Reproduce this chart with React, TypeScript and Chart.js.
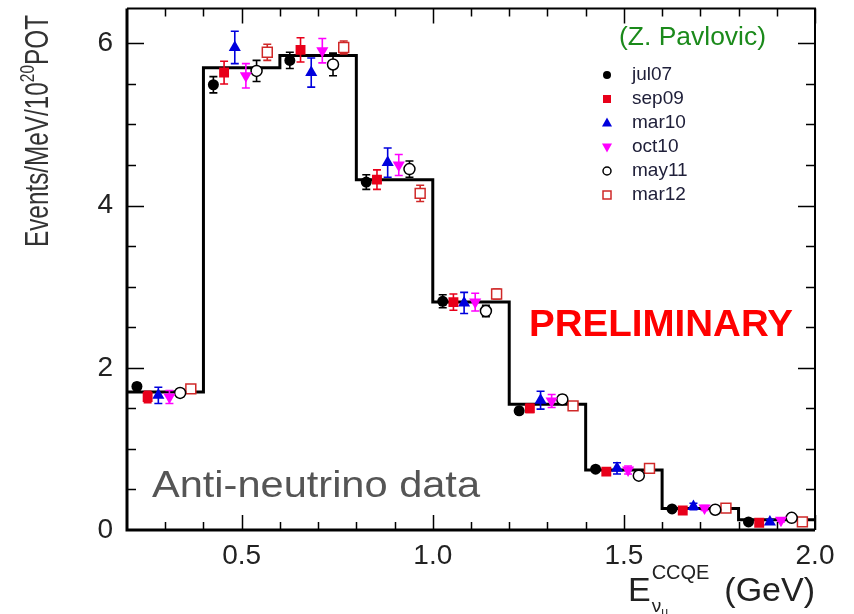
import React, { useEffect, useRef } from "react";
import { Chart, registerables } from "chart.js";

Chart.register(...registerables);

// Reconstructed-energy binning (GeV) and the predicted rate in each bin
const BIN_EDGES = [0.2, 0.4, 0.6, 0.8, 1.0, 1.2, 1.4, 1.6, 1.8, 2.0];
const PREDICTION = [1.7, 5.7, 5.85, 4.32, 2.81, 1.55, 0.74, 0.265, 0.125];

// Measured rate per run period (Events/MeV/1e20 POT) and its error
const RUN_LABELS = ["jul07", "sep09", "mar10", "oct10", "may11", "mar12"];
const JUL07 = [1.77, 5.49, 5.79, 4.29, 2.82, 1.47, 0.75, 0.26, 0.1];
const JUL07_ERR = [0.04, 0.1, 0.1, 0.09, 0.08, 0.04, 0.03, 0.02, 0.02];
const SEP09 = [1.64, 5.64, 5.92, 4.32, 2.81, 1.5, 0.72, 0.24, 0.09];
const SEP09_ERR = [0.07, 0.14, 0.15, 0.12, 0.1, 0.05, 0.04, 0.03, 0.02];
const MAR10 = [1.66, 5.95, 5.64, 4.53, 2.8, 1.6, 0.76, 0.29, 0.1];
const MAR10_ERR = [0.1, 0.2, 0.18, 0.18, 0.13, 0.11, 0.07, 0.04, 0.03];
const OCT10 = [1.64, 5.6, 5.91, 4.5, 2.81, 1.59, 0.74, 0.27, 0.12];
const OCT10_ERR = [0.08, 0.15, 0.15, 0.13, 0.11, 0.08, 0.05, 0.03, 0.02];
const MAY11 = [1.69, 5.66, 5.74, 4.45, 2.7, 1.61, 0.67, 0.25, 0.15];
const MAY11_ERR = [0.05, 0.13, 0.14, 0.1, 0.07, 0.05, 0.04, 0.02, 0.02];
const MAR12 = [1.74, 5.89, 5.95, 4.15, 2.91, 1.53, 0.76, 0.27, 0.1];
const MAR12_ERR = [0.05, 0.1, 0.08, 0.1, 0.06, 0.04, 0.04, 0.02, 0.02];

const RUN_VALUES = [JUL07, SEP09, MAR10, OCT10, MAY11, MAR12];
const RUN_ERRORS = [JUL07_ERR, SEP09_ERR, MAR10_ERR, OCT10_ERR, MAY11_ERR, MAR12_ERR];

// Each run is drawn slightly shifted inside its bin (GeV from the bin's low edge)
const RUN_OFFSETS = [0.026, 0.054, 0.082, 0.111, 0.139, 0.167];

// Axis ticks
const X_TICKS = [0.5, 1.0, 1.5, 2.0];
const Y_TICKS = [0, 2, 4, 6];
const X_MINOR_STEP = 0.1;
const Y_MINOR_STEP = 0.5;
const X_MIN = 0.2;
const X_MAX = 2.0;
const Y_MIN = 0;
const Y_MAX = 6.43;

type Shape = "circle" | "rect" | "triangle" | "triangleDown";
const RUN_STYLES: { color: string; shape: Shape; filled: boolean }[] = [
  { color: "#000000", shape: "circle", filled: true },
  { color: "#e8001a", shape: "rect", filled: true },
  { color: "#0000dd", shape: "triangle", filled: true },
  { color: "#ff00ff", shape: "triangleDown", filled: true },
  { color: "#000000", shape: "circle", filled: false },
  { color: "#d02828", shape: "rect", filled: false },
];

const FONT = '"Liberation Sans", Arial, sans-serif';

function drawMarker(
  ctx: CanvasRenderingContext2D,
  shape: Shape,
  color: string,
  filled: boolean,
  x: number,
  y: number,
  r: number
) {
  ctx.save();
  ctx.beginPath();
  if (shape === "circle") {
    ctx.arc(x, y, r, 0, Math.PI * 2);
  } else if (shape === "rect") {
    ctx.rect(x - r, y - r, 2 * r, 2 * r);
  } else if (shape === "triangle") {
    ctx.moveTo(x, y - r * 1.1);
    ctx.lineTo(x + r, y + r * 0.7);
    ctx.lineTo(x - r, y + r * 0.7);
    ctx.closePath();
  } else {
    ctx.moveTo(x, y + r * 1.1);
    ctx.lineTo(x + r, y - r * 0.7);
    ctx.lineTo(x - r, y - r * 0.7);
    ctx.closePath();
  }
  if (filled) {
    ctx.fillStyle = color;
    ctx.fill();
  } else {
    ctx.fillStyle = "#ffffff";
    ctx.fill();
    ctx.strokeStyle = color;
    ctx.lineWidth = 1.5;
    ctx.stroke();
  }
  ctx.restore();
}

// draw text squeezed or stretched horizontally to a given width
function fillTextToWidth(ctx: CanvasRenderingContext2D, text: string, x: number, y: number, width: number) {
  const w = ctx.measureText(text).width;
  ctx.save();
  ctx.translate(x, y);
  ctx.scale(width / w, 1);
  ctx.fillText(text, 0, 0);
  ctx.restore();
}

const decorPlugin = {
  id: "decor",
  // error bars are drawn just before the markers of their own run
  beforeDatasetDraw(chart: any, args: any) {
    const ds = chart.data.datasets[args.index];
    if (!ds.errors) return;
    const { ctx } = chart;
    const xs = chart.scales.x;
    const ys = chart.scales.y;
    ctx.save();
    ctx.strokeStyle = ds.borderColor;
    ctx.lineWidth = 1.6;
    ds.data.forEach((p: any, i: number) => {
      const e = ds.errors[i];
      const px = xs.getPixelForValue(p.x);
      const lo = ys.getPixelForValue(p.y - e);
      const hi = ys.getPixelForValue(p.y + e);
      ctx.beginPath();
      ctx.moveTo(px, lo);
      ctx.lineTo(px, hi);
      ctx.moveTo(px - 4, lo);
      ctx.lineTo(px + 4, lo);
      ctx.moveTo(px - 4, hi);
      ctx.lineTo(px + 4, hi);
      ctx.stroke();
    });
    ctx.restore();
  },
  afterDraw(chart: any) {
    const { ctx, chartArea: a } = chart;
    const xs = chart.scales.x;
    const ys = chart.scales.y;
    ctx.save();

    // frame
    ctx.strokeStyle = "#000";
    ctx.lineWidth = 3;
    ctx.beginPath();
    ctx.moveTo(a.left, a.top);
    ctx.lineTo(a.left, a.bottom);
    ctx.lineTo(a.right, a.bottom);
    ctx.stroke();
    ctx.lineWidth = 2;
    ctx.beginPath();
    ctx.moveTo(a.left, a.top);
    ctx.lineTo(a.right, a.top);
    ctx.lineTo(a.right, a.bottom);
    ctx.stroke();

    // inward tick marks on all four sides
    ctx.lineWidth = 1.5;
    ctx.beginPath();
    for (let v = X_MIN + X_MINOR_STEP; v < X_MAX + 1e-6; v += X_MINOR_STEP) {
      const major = X_TICKS.some((t) => Math.abs(t - v) < 1e-6);
      const len = major ? 15 : 8;
      const px = Math.round(xs.getPixelForValue(v)) + 0.5;
      ctx.moveTo(px, a.bottom);
      ctx.lineTo(px, a.bottom - len);
      ctx.moveTo(px, a.top);
      ctx.lineTo(px, a.top + len);
    }
    for (let v = Y_MIN + Y_MINOR_STEP; v < Y_MAX; v += Y_MINOR_STEP) {
      const major = Y_TICKS.some((t) => Math.abs(t - v) < 1e-6);
      const len = major ? 17 : 9;
      const py = Math.round(ys.getPixelForValue(v)) + 0.5;
      ctx.moveTo(a.left, py);
      ctx.lineTo(a.left + len, py);
      ctx.moveTo(a.right, py);
      ctx.lineTo(a.right - len, py);
    }
    ctx.stroke();

    // y axis title
    ctx.save();
    ctx.translate(48, 247);
    ctx.rotate(-Math.PI / 2);
    ctx.fillStyle = "#333";
    ctx.textBaseline = "alphabetic";
    ctx.textAlign = "left";
    const big = `33px ${FONT}`;
    const small = `21px ${FONT}`;
    ctx.font = big;
    const w1 = ctx.measureText("Events/MeV/10").width;
    const w3 = ctx.measureText("POT").width;
    ctx.font = small;
    const w2 = ctx.measureText("20").width;
    const total = w1 + w2 + w3;
    ctx.scale(232 / total, 1);
    ctx.font = big;
    ctx.fillText("Events/MeV/10", 0, 0);
    ctx.font = small;
    ctx.fillText("20", w1, -14);
    ctx.font = big;
    ctx.fillText("POT", w1 + w2, 0);
    ctx.restore();

    // x axis title
    ctx.fillStyle = "#222";
    ctx.textBaseline = "alphabetic";
    ctx.textAlign = "left";
    ctx.font = `34px ${FONT}`;
    const gev = "(GeV)";
    const wG = ctx.measureText(gev).width;
    ctx.fillText(gev, 815 - wG, 601);
    const ex = 628;
    ctx.fillText("E", ex, 601);
    const wE = ctx.measureText("E").width;
    ctx.font = `20px ${FONT}`;
    ctx.fillText("CCQE", ex + wE + 1, 579);
    ctx.font = `19px ${FONT}`;
    ctx.fillText("\u03bd", ex + wE + 1, 612);
    const wNu = ctx.measureText("\u03bd").width;
    ctx.font = `12px ${FONT}`;
    ctx.fillText("\u03bc", ex + wE + 1 + wNu, 616);

    // annotations
    ctx.font = `26px ${FONT}`;
    ctx.fillStyle = "#1b8a1b";
    ctx.textBaseline = "middle";
    fillTextToWidth(ctx, "(Z. Pavlovic)", 619, 38, 147);

    ctx.font = `bold 37px ${FONT}`;
    ctx.fillStyle = "#ff0000";
    fillTextToWidth(ctx, "PRELIMINARY", 529, 326, 264);

    ctx.font = `36px ${FONT}`;
    ctx.fillStyle = "#555555";
    ctx.textBaseline = "alphabetic";
    fillTextToWidth(ctx, "Anti-neutrino data", 152, 497, 328);

    // legend
    ctx.font = `19px ${FONT}`;
    ctx.textBaseline = "middle";
    RUN_LABELS.forEach((lab, i) => {
      const y = 75 + i * 24;
      const st = RUN_STYLES[i];
      const r = st.shape === "circle" ? 4 : st.shape === "rect" ? 4 : 5;
      drawMarker(ctx, st.shape, st.color, st.filled, 607, y, r);
      ctx.fillStyle = "#20203a";
      ctx.fillText(lab, 632, y);
    });

    ctx.restore();
  },
};

export default function App() {
  const ref = useRef<HTMLCanvasElement | null>(null);

  useEffect(() => {
    const canvas = ref.current;
    if (!canvas) return;

    const histogram = BIN_EDGES.map((e, i) => ({
      x: e,
      y: PREDICTION[Math.min(i, PREDICTION.length - 1)],
    }));

    const runSets = RUN_LABELS.map((label, r) => {
      const st = RUN_STYLES[r];
      return {
        type: "scatter" as const,
        label,
        data: RUN_VALUES[r].map((v, i) => ({ x: BIN_EDGES[i] + RUN_OFFSETS[r], y: v })),
        errors: RUN_ERRORS[r],
        pointStyle: st.shape === "triangleDown" ? "triangle" : st.shape,
        rotation: st.shape === "triangleDown" ? 180 : 0,
        pointRadius: st.shape === "circle" ? 5.5 : 7,
        backgroundColor: st.filled ? st.color : "#ffffff",
        borderColor: st.color,
        borderWidth: st.filled ? 0 : 1.5,
      };
    });

    const chart = new Chart(canvas, {
      type: "scatter",
      data: {
        datasets: [
          ...runSets,
          {
            type: "line" as const,
            label: "prediction",
            data: histogram,
            stepped: true,
            borderColor: "#000",
            borderWidth: 3,
            pointRadius: 0,
            fill: false,
          } as any,
        ],
      },
      options: {
        responsive: false,
        animation: false,
        events: [],
        layout: { padding: { top: 8, right: 39, left: 0, bottom: 0 } },
        plugins: { legend: { display: false }, tooltip: { enabled: false } },
        scales: {
          x: {
            type: "linear",
            min: X_MIN,
            max: X_MAX,
            grid: { display: false, drawTicks: false },
            border: { display: false },
            afterBuildTicks: (s: any) => {
              s.ticks = X_TICKS.map((v) => ({ value: v }));
            },
            afterFit: (s: any) => {
              s.height = 84;
              s.paddingLeft = 0;
              s.paddingRight = 0;
            },
            ticks: {
              padding: 9,
              maxRotation: 0,
              autoSkip: false,
              color: "#222",
              font: { family: FONT, size: 28 },
              callback: (v: any) => Number(v).toFixed(1),
            },
          },
          y: {
            type: "linear",
            min: Y_MIN,
            max: Y_MAX,
            grid: { display: false, drawTicks: false },
            border: { display: false },
            afterBuildTicks: (s: any) => {
              s.ticks = Y_TICKS.map((v) => ({ value: v }));
            },
            afterFit: (s: any) => {
              s.width = 127;
              s.paddingTop = 0;
              s.paddingBottom = 0;
            },
            ticks: {
              padding: 14,
              autoSkip: false,
              color: "#222",
              font: { family: FONT, size: 28 },
              callback: (v: any) => String(v),
            },
          },
        },
      },
      plugins: [decorPlugin],
    } as any);

    return () => chart.destroy();
  }, []);

  return (
    <div style={{ position: "absolute", left: 0, top: 0, width: 854, height: 614, background: "#fff" }}>
      <canvas ref={ref} width={854} height={614} style={{ display: "block" }} />
    </div>
  );
}
